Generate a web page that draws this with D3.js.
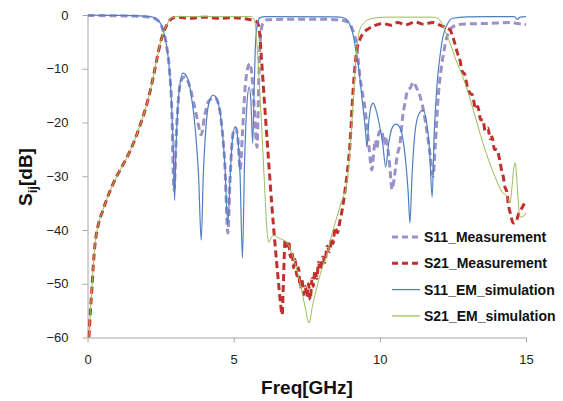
<!DOCTYPE html>
<html>
<head>
<meta charset="utf-8">
<script src="https://cdn.jsdelivr.net/npm/d3@7"></script>
<style>
  body { margin: 0; background: #fff; }
  svg { font-family: "Liberation Sans", Arial, sans-serif; }
</style>
</head>
<body>
<svg width="563" height="401"></svg>
<script>
// data: [freq GHz, dB]
var s11Meas = [
  [0, -0.1], [1, -0.15], [1.8, -0.25], [2.2, -0.5], [2.4, -1.0], [2.55, -2.3], [2.7, -5.5], [2.8, -10],
  [2.88, -17], [2.96, -32.6], [3.04, -22], [3.12, -15], [3.22, -12], [3.34, -11.5], [3.48, -13], [3.62, -16],
  [3.76, -19.5], [3.89, -22.3], [4.0, -19], [4.15, -16], [4.36, -15.4], [4.5, -17], [4.6, -21], [4.7, -28],
  [4.8, -40.6], [4.88, -30], [4.98, -22], [5.08, -21], [5.16, -24], [5.22, -28.8], [5.3, -22], [5.4, -13],
  [5.5, -9.5], [5.56, -9], [5.62, -11], [5.7, -17], [5.8, -24.6], [5.86, -12], [5.92, -4], [6.0, -1.5],
  [6.15, -0.9], [7, -0.8], [8, -0.8], [8.6, -0.9], [8.9, -1.3], [9.05, -2.5], [9.2, -5.5], [9.32, -11.5],
  [9.5, -17.7], [9.62, -24], [9.73, -28.8], [9.8, -25], [9.85, -23.3], [9.9, -25], [9.96, -22], [10.07, -21.4],
  [10.13, -24], [10.18, -22.5], [10.24, -23.9], [10.3, -26], [10.35, -28.8], [10.42, -32.5], [10.5, -30],
  [10.6, -26], [10.69, -23.9], [10.78, -19], [10.86, -16.4], [10.95, -14], [11.05, -13.5], [11.14, -12.5],
  [11.25, -13.5], [11.38, -15.2], [11.5, -18], [11.62, -22], [11.72, -26], [11.82, -30], [11.9, -24],
  [12.0, -15], [12.1, -10], [12.2, -6.5], [12.3, -4], [12.5, -2.2], [12.8, -1.7], [13.5, -1.6], [14.0, -1.5],
  [14.5, -1.4], [14.7, -1.6], [15, -1.8]
];

var s21Meas = [
  [0.05, -60], [0.1, -55], [0.15, -51], [0.2, -46.5], [0.26, -42.5], [0.35, -39.5], [0.53, -36.3], [0.75, -33],
  [1.0, -30], [1.3, -27], [1.56, -24], [1.8, -20.5], [1.97, -17.7], [2.15, -14], [2.25, -11.5], [2.4, -7.5],
  [2.5, -5], [2.62, -3], [2.75, -1.5], [2.9, -0.6], [3.1, -0.4], [3.5, -0.6], [4, -0.4], [4.5, -0.6], [5, -0.5],
  [5.4, -0.7], [5.6, -0.9], [5.8, -1.3], [5.88, -3], [5.95, -8], [6.05, -16], [6.18, -26], [6.3, -35],
  [6.42, -43], [6.52, -49], [6.6, -53.5], [6.66, -55.8], [6.7, -50], [6.76, -41.9], [6.82, -43], [6.88, -42],
  [6.94, -45], [7.0, -44], [7.05, -47], [7.1, -45.5], [7.16, -48.5], [7.22, -47], [7.27, -50.6], [7.33, -49],
  [7.4, -52], [7.45, -50.5], [7.5, -52.4], [7.56, -50], [7.62, -53], [7.68, -49], [7.72, -50.5], [7.78, -47.5],
  [7.85, -49], [7.9, -46], [7.96, -47.5], [8.05, -45], [8.12, -46], [8.2, -43], [8.28, -44], [8.35, -41.5],
  [8.4, -42.5], [8.47, -39.5], [8.55, -40.5], [8.64, -38.2], [8.72, -36], [8.8, -33], [8.87, -30.1],
  [8.98, -23.9], [9.08, -14.5], [9.2, -7], [9.32, -4.5], [9.45, -3.3], [9.6, -2.6], [9.8, -2.0], [10.1, -1.6],
  [10.4, -1.9], [10.6, -1.4], [10.9, -1.8], [11.2, -1.3], [11.5, -1.7], [11.8, -1.4], [12.06, -1.9],
  [12.2, -2.2], [12.4, -2.8], [12.55, -5], [12.65, -7], [12.74, -8.4], [12.82, -10.5], [12.9, -11],
  [13.0, -13.5], [13.08, -14.5], [13.18, -15], [13.27, -17.5], [13.35, -17], [13.45, -19.5], [13.53, -19.5],
  [13.6, -21.5], [13.7, -21], [13.77, -23], [13.84, -22.7], [13.92, -25], [14.0, -25], [14.1, -27],
  [14.17, -29], [14.22, -30], [14.28, -32], [14.35, -33], [14.39, -35], [14.47, -37], [14.56, -38.7],
  [14.65, -38.5], [14.75, -37], [14.85, -36], [14.95, -35]
];

var s11Sim = [
  [0, -0.05], [1, -0.08], [1.8, -0.15], [2.2, -0.35], [2.4, -0.9], [2.55, -2.2], [2.69, -5.2], [2.8, -10],
  [2.88, -17], [2.94, -26], [2.98, -34.5], [3.02, -26], [3.08, -18], [3.16, -13], [3.27, -10.8], [3.4, -11.5],
  [3.55, -15], [3.7, -22], [3.8, -30], [3.89, -41.9], [3.96, -30], [4.05, -21], [4.17, -16], [4.3, -14.9],
  [4.45, -16], [4.58, -20], [4.7, -28], [4.8, -39], [4.88, -30], [4.96, -23], [5.05, -20.8], [5.14, -23],
  [5.22, -30], [5.3, -45.2], [5.37, -28], [5.45, -17], [5.53, -13.4], [5.59, -16], [5.65, -23.9], [5.7, -14],
  [5.75, -5], [5.82, -1.5], [5.9, -0.5], [6.1, -0.3], [8.5, -0.35], [8.8, -0.6], [8.95, -1.5], [9.08, -3.5],
  [9.18, -6.5], [9.28, -10], [9.4, -16], [9.5, -21], [9.56, -24.6], [9.62, -20], [9.7, -17], [9.77, -16.4],
  [9.86, -17.5], [9.97, -20], [10.1, -24], [10.2, -28.3], [10.3, -24], [10.42, -21], [10.55, -20.3],
  [10.63, -20.5], [10.75, -22], [10.88, -27], [10.97, -33], [11.03, -38.7], [11.1, -30], [11.2, -22],
  [11.33, -18.5], [11.48, -17.7], [11.6, -20], [11.7, -25], [11.79, -33.9], [11.86, -22], [11.95, -13.4],
  [12.05, -8], [12.16, -4], [12.3, -1.8], [12.5, -0.6], [13, -0.35], [14, -0.3], [14.6, -0.3], [14.7, -0.8],
  [14.8, -0.4], [15, -0.3]
];

var s21Sim = [
  [0.05, -60], [0.1, -55], [0.15, -51], [0.2, -46.5], [0.26, -42.5], [0.35, -39.5], [0.53, -36.3], [0.75, -33],
  [1.0, -30], [1.3, -27], [1.56, -24], [1.8, -20.5], [1.97, -17.7], [2.15, -14], [2.25, -11.5], [2.4, -7.5],
  [2.5, -5], [2.62, -3], [2.75, -1.4], [2.9, -0.5], [3.1, -0.3], [5.6, -0.3], [5.7, -0.8], [5.75, -2.2],
  [5.85, -10], [5.95, -20], [6.05, -31], [6.14, -40], [6.2, -42.3], [6.28, -41.5], [6.35, -41], [6.55, -41.5],
  [6.82, -42.4], [7.0, -44.5], [7.16, -47.4], [7.3, -50.5], [7.45, -54.5], [7.58, -57.3], [7.7, -54],
  [7.85, -50.6], [8.0, -47.5], [8.2, -44.3], [8.35, -41], [8.53, -37.6], [8.7, -34.5], [8.87, -31.3],
  [8.95, -27], [9.02, -22], [9.1, -15], [9.2, -7], [9.3, -3], [9.45, -1.5], [9.7, -0.7], [10.2, -0.4],
  [11.8, -0.4], [12.0, -0.7], [12.1, -1.3], [12.17, -2.2], [12.4, -5.2], [12.6, -8.3], [12.84, -11.5],
  [13.2, -17.7], [13.53, -23.9], [13.94, -30.1], [14.18, -32.9], [14.35, -33.8], [14.45, -35], [14.52, -32],
  [14.58, -28.5], [14.63, -27.5], [14.68, -30], [14.74, -35], [14.8, -37.6], [14.9, -37.5], [15, -36.8]
];

var seriesNames = ['S11_Measurement', 'S21_Measurement', 'S11_EM_simulation', 'S21_EM_simulation'];
var xTicks = [0, 5, 10, 15];
var yTicks = [0, -10, -20, -30, -40, -50, -60];

var series = [
  { name: seriesNames[0], values: s11Meas, color: '#9c90c8', width: 3, dash: '7,4' },
  { name: seriesNames[1], values: s21Meas, color: '#c0302c', width: 3, dash: '7,4' },
  { name: seriesNames[2], values: s11Sim, color: '#4f7fc1', width: 1.2, dash: null },
  { name: seriesNames[3], values: s21Sim, color: '#9bbb59', width: 1, dash: null }
];

var svg = d3.select('svg');

var x = d3.scaleLinear().domain([0, 15]).range([87.5, 526]);
var y = d3.scaleLinear().domain([-60, 0]).range([337.5, 15]);

// axes
var xAxis = svg.append('g')
    .attr('transform', 'translate(0,' + y(-60) + ')')
    .call(d3.axisBottom(x).tickValues(xTicks).tickSize(5).tickSizeOuter(0).tickPadding(12));
var yAxis = svg.append('g')
    .attr('transform', 'translate(' + x(0) + ',0)')
    .call(d3.axisLeft(y).tickValues(yTicks).tickSize(5).tickSizeOuter(0).tickPadding(14));

[xAxis, yAxis].forEach(function(g) {
    g.selectAll('path, line').attr('stroke', '#a6a6a6');
    g.selectAll('text').attr('font-size', 13).attr('fill', '#222');
});

// clip to plot area
svg.append('clipPath').attr('id', 'plot')
  .append('rect')
    .attr('x', x(0)).attr('y', y(0) - 3)
    .attr('width', x(15) - x(0) + 2).attr('height', y(-60) - y(0) + 3);

var line = d3.line()
    .x(function(d) { return x(d[0]); })
    .y(function(d) { return y(d[1]); })
    .curve(d3.curveMonotoneX);

svg.append('g').attr('clip-path', 'url(#plot)')
  .selectAll('path')
  .data(series)
  .enter()
  .append('path')
    .attr('d', function(d) { return line(d.values); })
    .attr('fill', 'none')
    .attr('stroke', function(d) { return d.color; })
    .attr('stroke-width', function(d) { return d.width; })
    .attr('stroke-dasharray', function(d) { return d.dash; })
    .attr('stroke-linejoin', 'round');

// axis titles
svg.append('text')
    .attr('x', 307).attr('y', 394)
    .attr('text-anchor', 'middle')
    .attr('font-size', 19).attr('font-weight', 'bold').attr('fill', '#111')
    .text('Freq[GHz]');

var yTitle = svg.append('text')
    .attr('transform', 'translate(32,177) rotate(-90)')
    .attr('text-anchor', 'middle')
    .attr('font-size', 19).attr('font-weight', 'bold').attr('fill', '#111');
yTitle.append('tspan').text('S');
yTitle.append('tspan').attr('font-size', 13).attr('dy', 5).text('ij');
yTitle.append('tspan').attr('dy', -5).text('[dB]');

// legend
var legend = svg.append('g').attr('transform', 'translate(392,237)');
var item = legend.selectAll('g')
    .data(series)
    .enter()
    .append('g')
    .attr('transform', function(d, i) { return 'translate(0,' + (i * 26.3) + ')'; });
item.append('line')
    .attr('x1', 0).attr('x2', 28)
    .attr('stroke', function(d) { return d.color; })
    .attr('stroke-width', function(d) { return d.dash ? 3 : 1.2; })
    .attr('stroke-dasharray', function(d) { return d.dash ? '6,4' : null; });
item.append('text')
    .attr('x', 32).attr('y', 5)
    .attr('font-size', 14).attr('font-weight', 'bold').attr('fill', '#111')
    .text(function(d) { return d.name; });
</script>
</body>
</html>
